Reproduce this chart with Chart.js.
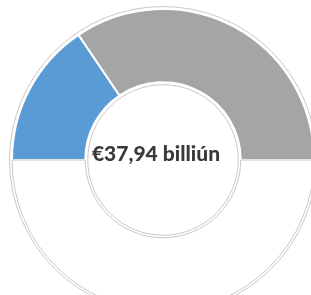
<!DOCTYPE html>
<html>
<head>
<meta charset="utf-8">
<script src="https://cdn.jsdelivr.net/npm/chart.js@4"></script>
<style>
  html, body { margin: 0; padding: 0; background: #fff; overflow: hidden; }
  #wrap { position: absolute; left: 7px; top: 4px; width: 312px; height: 312px; }
</style>
</head>
<body>
<div id="wrap"><canvas id="gauge"></canvas></div>
<script>
// segments, bottom half is just a white filler
const labels = ['Blue', 'Grey', 'Filler'];
const values = [11.8, 26.14, 37.94];
const colors = ['#5B9BD5', '#A5A5A5', '#FFFFFF'];
const centerText = '€37,94 billiún';

// thin outer/inner ring lines + center label
const ringPlugin = {
    id: 'ring',
    afterDatasetsDraw(chart) {
        const arc = chart.getDatasetMeta(0).data[0];
        if (!arc) return;
        const ctx = chart.ctx;
        ctx.save();
        ctx.strokeStyle = '#c8c8c8';
        ctx.lineWidth = 1;
        ctx.beginPath();
        ctx.arc(arc.x, arc.y, arc.outerRadius + 2.5, 0, Math.PI * 2);
        ctx.stroke();
        ctx.beginPath();
        ctx.arc(arc.x, arc.y, arc.innerRadius - 2.5, 0, Math.PI * 2);
        ctx.stroke();

        ctx.fillStyle = '#3a3a3a';
        ctx.font = '900 21px Lato';
        ctx.textAlign = 'center';
        ctx.textBaseline = 'alphabetic';
        ctx.fillText(centerText, arc.x - 7, arc.y + 1);
        ctx.restore();
    }
};

const ctx = document.getElementById('gauge').getContext('2d');
new Chart(ctx, {
    type: 'doughnut',
    data: {
        labels: labels,
        datasets: [{
            data: values,
            backgroundColor: colors,
            borderColor: ['#ffffff', '#ffffff', '#c8c8c8'],
            borderWidth: [2, 2, 1]
        }]
    },
    options: {
        responsive: true,
        maintainAspectRatio: false,
        animation: false,
        rotation: -90,
        cutout: '51.5%',
        layout: { padding: 4 },
        plugins: {
            legend: { display: false },
            tooltip: { enabled: false }
        }
    },
    plugins: [ringPlugin]
});
</script>
</body>
</html>
